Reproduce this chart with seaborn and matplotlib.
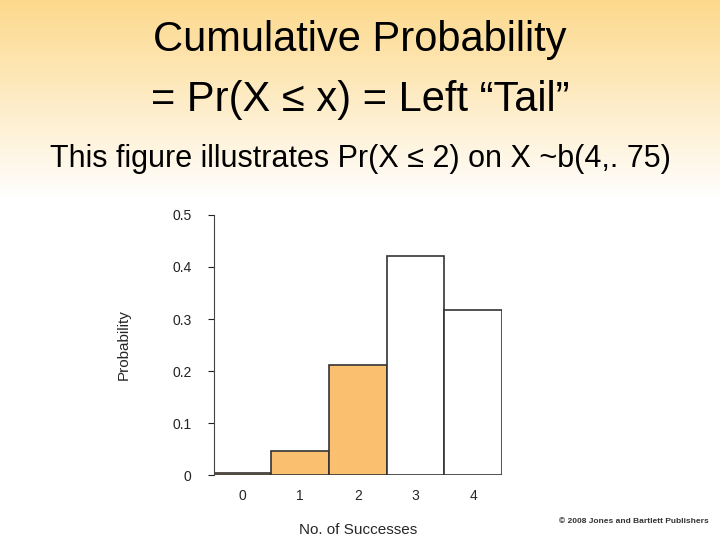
import numpy as np
import pandas as pd
import matplotlib
matplotlib.use("Agg")
import matplotlib.pyplot as plt
import seaborn as sns

successes = [0, 1, 2, 3, 4]
probs = [0.0039, 0.0469, 0.2109, 0.4219, 0.3164]
shaded = [True, True, True, False, False]
yticks = [0, 0.1, 0.2, 0.3, 0.4, 0.5]
ytick_labels = ["0", "0.1", "0.2", "0.3", "0.4", "0.5"]

sns.set_style("white")
plt.rcParams['font.family'] = ['Liberation Sans', 'DejaVu Sans']

fig = plt.figure(figsize=(7.2, 5.4), dpi=100)
bg = fig.add_axes([0, 0, 1, 1], zorder=-10)
t = np.clip(1 - np.arange(540) / 200.0, 0, 1)[:, None]
top = np.array([0.99, 0.85, 0.55])
g = (1 - t)[..., None] * np.array([1, 1, 1]) + t[..., None] * top
bg.imshow(g, aspect='auto', extent=[0, 1, 0, 1])
bg.axis('off')

fig.text(0.5, 0.925, "Cumulative Probability", ha='center', va='center', fontsize=30, color='black')
fig.text(0.5, 0.815, "= Pr(X \u2264 x) = Left \u201cTail\u201d", ha='center', va='center', fontsize=30, color='black')
fig.text(0.5, 0.705, "This figure illustrates Pr(X \u2264 2) on X ~b(4,. 75)", ha='center', va='center', fontsize=22, color='black')
fig.text(0.985, 0.035, "\u00a9 2008 Jones and Bartlett Publishers", ha='right', va='center', fontsize=6, weight='bold', color='#333333')

ax = fig.add_axes([0.297, 0.12, 0.4, 0.482])
ax.patch.set_alpha(0)
df = pd.DataFrame({"x": successes, "p": probs})
sns.barplot(data=df, x="x", y="p", ax=ax, width=1.0, color="white", edgecolor="#333333", linewidth=1.2)
for patch, s in zip(ax.patches, shaded):
    patch.set_facecolor("#fbbf70" if s else "white")
ax.set_xlim(-0.5, 4.5)
ax.set_ylim(0, 0.5)
ax.set_yticks(yticks)
ax.set_yticklabels(ytick_labels)
for s in ["top", "right", "bottom"]:
    ax.spines[s].set_visible(False)
ax.spines["left"].set_color("#444444")
ax.tick_params(axis='y', length=4, labelsize=10, colors='#222222', left=True, pad=12)
ax.tick_params(axis='x', length=0, labelsize=10, pad=10)
ax.set_xlabel("No. of Successes", fontsize=11, labelpad=14)
ax.set_ylabel("Probability", fontsize=11, labelpad=30)
fig.savefig("out.png", dpi=100)
